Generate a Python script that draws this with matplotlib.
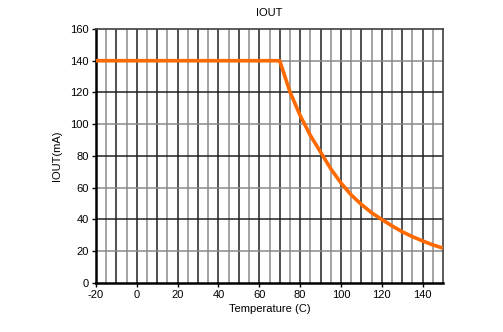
import matplotlib
matplotlib.use("Agg")
import matplotlib.pyplot as plt
import numpy as np

plt.rcParams['font.family'] = ['Liberation Sans', 'DejaVu Sans']
plt.rcParams['axes.unicode_minus'] = False

# Output current derating vs. temperature
temperature = [-20, 70, 75, 80, 85, 90, 95, 100, 105, 110, 115, 120, 125, 130, 135, 140, 145, 150]
iout_ma = [140, 140, 120.5, 105.5, 93, 82.5, 72, 63, 55.5, 49.5, 44.3, 40, 36, 32.3, 29.2, 26.5, 24, 22]

x_ticks = [-20, 0, 20, 40, 60, 80, 100, 120, 140]
y_ticks = [0, 20, 40, 60, 80, 100, 120, 140, 160]

fig = plt.figure(figsize=(5.03, 3.32), dpi=100)
ax = fig.add_axes([0.1909, 0.1476, 0.6898, 0.7651])

ax.set_xlim(-20, 150)
ax.set_ylim(0, 160)

# grid: every 5 deg vertically, every 20 mA horizontally
for xv in np.arange(-15, 150, 5):
    dark = (xv % 10 == 0)
    ax.axvline(xv, color='#202020' if dark else '#8a8a8a', lw=1.1, zorder=1)
for yv in np.arange(20, 160, 20):
    dark = (yv % 40 == 0)
    ax.axhline(yv, color='#202020' if dark else '#8a8a8a', lw=1.1, zorder=1)

ax.plot(temperature, iout_ma, color='#ff6a00', lw=2.6, zorder=3,
        solid_capstyle='butt', solid_joinstyle='round')

ax.set_xticks(x_ticks)
ax.set_yticks(y_ticks)
ax.tick_params(axis='both', labelsize=8, length=3, width=1, color='black', direction='out', pad=2)

for side in ['left', 'bottom']:
    ax.spines[side].set_linewidth(1.8)
    ax.spines[side].set_color('#000000')
for side in ['top', 'right']:
    ax.spines[side].set_linewidth(1.2)
    ax.spines[side].set_color('#404040')

ax.set_title('IOUT', fontsize=8, pad=9)
ax.set_xlabel('Temperature (C)', fontsize=8, labelpad=3)
ax.set_ylabel('IOUT(mA)', fontsize=8, labelpad=6)

fig.savefig('out.png', dpi=100, facecolor='white')
